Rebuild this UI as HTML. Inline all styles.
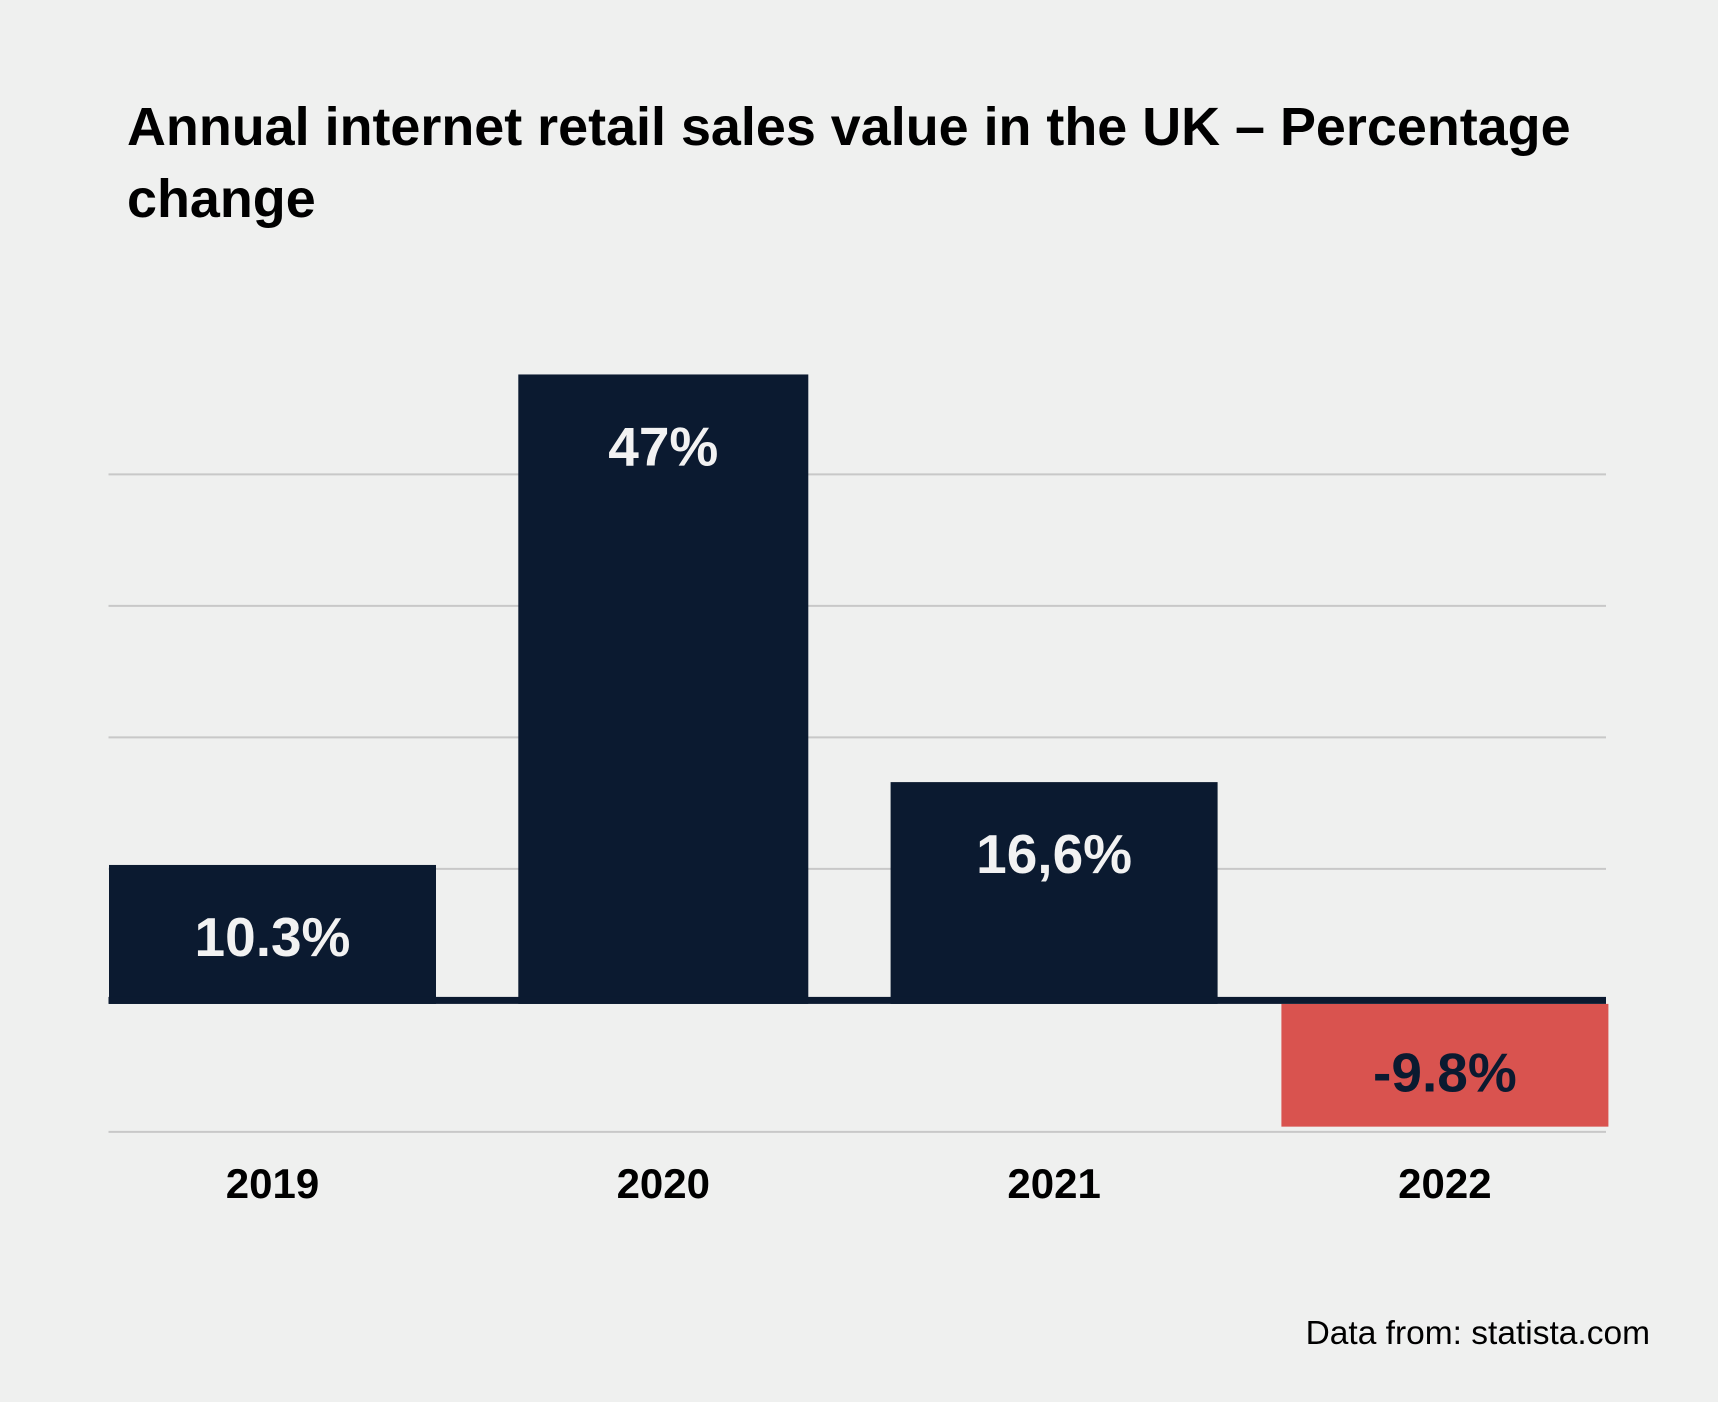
<!DOCTYPE html>
<html><head><meta charset="utf-8"><style>
html,body{margin:0;padding:0;background:#eff0ef;}
svg{display:block;font-family:"Liberation Sans",Arial,sans-serif;}
</style></head><body>
<svg id="chart" width="1718" height="1402" viewBox="0 0 1718 1402" xmlns="http://www.w3.org/2000/svg">
<rect width="1718" height="1402" fill="#eff0ef"/>
<text x="127" y="145" font-size="53.9" font-weight="bold" fill="#000">Annual internet retail sales value in the UK – Percentage</text>
<text x="127" y="217" font-size="53.9" font-weight="bold" fill="#000">change</text>
<g id="grid"></g>
<g id="bars"></g>
<g id="labels"></g>
<text x="1650" y="1344" font-size="33.5" text-anchor="end" fill="#000">Data from: statista.com</text>
</svg>
<script>
const categories = ["2019","2020","2021","2022"];
const values = [10.3, 47.6, 16.6, -9.6];
const valueLabels = ["10.3%","47%","16,6%","-9.8%"];
const gridTicks = [-10, 0, 10, 20, 30, 40];

const NS = "http://www.w3.org/2000/svg";
const plotLeft = 108.5, plotRight = 1606;
const zeroY = 1000.4, pxPerUnit = 13.15;
function y(v){ return zeroY - v * pxPerUnit; }
const firstCenter = 272.5, step = 390.8;
const barWidthStyle = [327, 290, 327, 327];
function xCenter(i){ return firstCenter + i * step; }

function mk(tag, attrs){ const e = document.createElementNS(NS, tag); for (const k in attrs) e.setAttribute(k, attrs[k]); return e; }

const grid = document.getElementById('grid');
gridTicks.forEach(t => {
  if (t === 0) return;
  const l = mk('line', {x1: plotLeft, x2: plotRight, y1: y(t), y2: y(t), stroke: '#c8c8c8', 'stroke-width': 2});
  
  
  grid.appendChild(l);
});

const bars = document.getElementById('bars');
const labels = document.getElementById('labels');
values.forEach((v, i) => {
  const top = Math.min(y(v), y(0)), h = Math.abs(y(v) - y(0));
  const neg = v < 0;
  const barW = barWidthStyle[i % barWidthStyle.length];
  const r = mk('rect', {x: xCenter(i) - barW/2, y: neg ? zeroY + 3.5 : top, width: barW, height: neg ? h - 3.5 : h + 3.5, fill: neg ? '#d9534f' : '#0b1a30'});
  
  
  bars.appendChild(r);
  const ly = (neg ? zeroY : top) + 72 + 19;
  const t = mk('text', {x: xCenter(i), y: ly, 'font-size': 55, 'font-weight': 'bold', 'text-anchor': 'middle', fill: neg ? '#0b1a30' : '#f2f2f2'});
  t.textContent = valueLabels[i];
  
  
  labels.appendChild(t);
  const c = mk('text', {x: xCenter(i), y: 1198, 'font-size': 42, 'font-weight': 'bold', 'text-anchor': 'middle', fill: '#000'});
  c.textContent = categories[i];
  
  
  labels.appendChild(c);
});
const zl = mk('rect', {x: plotLeft, y: zeroY - 3.5, width: plotRight - plotLeft, height: 7, fill: '#0b1a30'});


bars.appendChild(zl);
</script>
</body></html>
